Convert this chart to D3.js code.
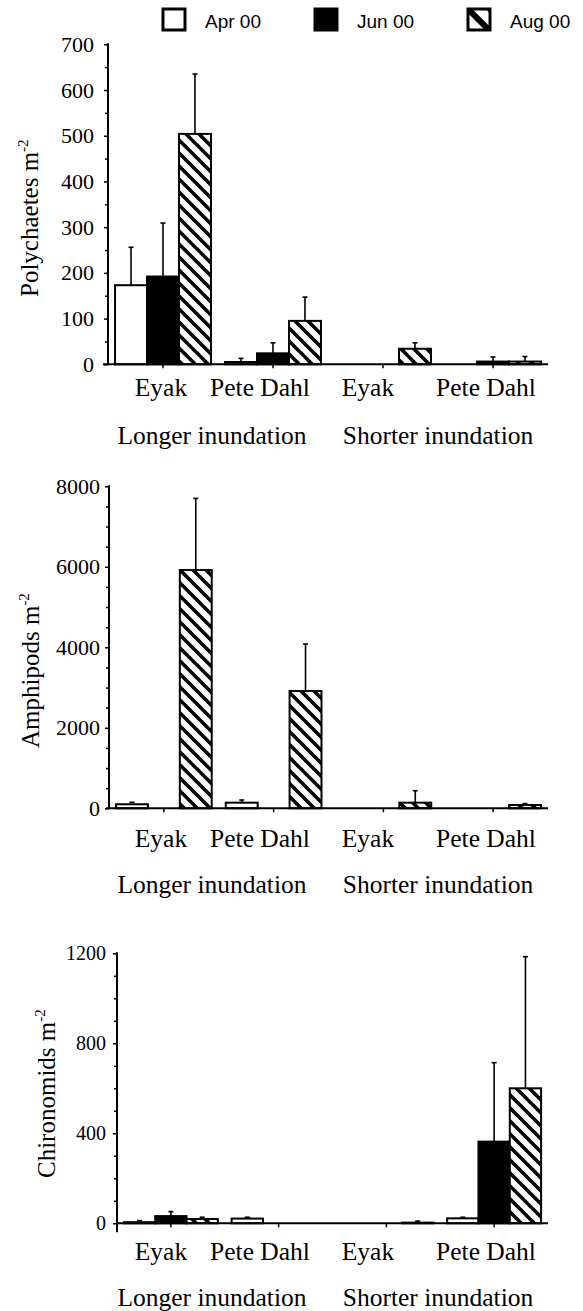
<!DOCTYPE html>
<html>
<head>
<meta charset="utf-8">
<script src="https://cdn.jsdelivr.net/npm/d3@7"></script>
<style>
  body { margin: 0; background: #fff; }
  svg { display: block; }
  .serif, .serif text { font-family: 'Liberation Serif', serif; }
</style>
</head>
<body>
<svg id="chart" width="583" height="1311"></svg>
<script>
// categories
var sites = ['Eyak L', 'Pete Dahl L', 'Eyak S', 'Pete Dahl S'];
var siteLabels = ['Eyak', 'Pete Dahl', 'Eyak', 'Pete Dahl'];
var groupLabels = ['Longer inundation', 'Shorter inundation'];
var months = ['Apr 00', 'Jun 00', 'Aug 00'];

// Polychaetes m-2 (mean, upper error)
var polyApr = [173, 5, 0, 0],   polyAprErr = [83, 8, 0, 0];
var polyJun = [192, 24, 0, 6],  polyJunErr = [117, 23, 0, 10];
var polyAug = [504, 95, 34, 6], polyAugErr = [131, 52, 13, 11];
var polyTicks = [0, 100, 200, 300, 400, 500, 600, 700];
var polyMinor = [50, 150, 250, 350, 450, 550, 650];

// Amphipods m-2
var amphApr = [100, 140, 0, 0],       amphAprErr = [50, 66, 0, 0];
var amphJun = [0, 0, 0, 0],           amphJunErr = [0, 0, 0, 0];
var amphAug = [5920, 2914, 140, 82],  amphAugErr = [1780, 1168, 297, 35];
var amphTicks = [0, 2000, 4000, 6000, 8000];
var amphMinor = [500, 1000, 1500, 2500, 3000, 3500, 4500, 5000, 5500, 6500, 7000, 7500];

// Chironomids m-2
var chirApr = [5, 21, 0, 22],   chirAprErr = [7, 6, 0, 5];
var chirJun = [32, 0, 0, 363],  chirJunErr = [20, 0, 0, 351];
var chirAug = [19, 0, 3, 600],  chirAugErr = [8, 0, 7, 585];
var chirTicks = [0, 400, 800, 1200];
var chirMinor = [100, 200, 300, 500, 600, 700, 900, 1000, 1100];

var serif = "'Liberation Serif', serif";
var sans = "'Liberation Sans', Arial, sans-serif";

var panels = [
  { title: 'Polychaetes m', mean: [polyApr, polyJun, polyAug], err: [polyAprErr, polyJunErr, polyAugErr],
    ticks: polyTicks, minor: polyMinor,
    x0: 108, x1: 548, extLeft: 5, extBelow: 0, zero: 364.3, top: 44.3, pad: 10, tickFont: 22,
    titleX: 38, titleY: 297, siteY: 396, groupY: 444 },
  { title: 'Amphipods m', mean: [amphApr, amphJun, amphAug], err: [amphAprErr, amphJunErr, amphAugErr],
    ticks: amphTicks, minor: amphMinor,
    x0: 109, x1: 548, extLeft: 3, extBelow: 0, zero: 808.3, top: 486.3, pad: 5, tickFont: 22,
    titleX: 39, titleY: 748, siteY: 847, groupY: 893 },
  { title: 'Chironomids m', mean: [chirApr, chirJun, chirAug], err: [chirAprErr, chirJunErr, chirAugErr],
    ticks: chirTicks, minor: chirMinor,
    x0: 117, x1: 548, extLeft: 0, extBelow: 9, zero: 1223.3, top: 953.3, pad: 7, tickFont: 20,
    titleX: 55, titleY: 1178, siteY: 1260, groupY: 1306 }
];
var siteLabelX = [161, 260, 368, 486];
var groupLabelX = [212, 438];

var svg = d3.select('#chart');
svg.append('rect').attr('width', 583).attr('height', 1311).attr('fill', '#fff');

var defs = svg.append('defs');
var hatch = defs.append('pattern')
  .attr('id', 'hatch')
  .attr('patternUnits', 'userSpaceOnUse')
  .attr('width', 13).attr('height', 13);
hatch.append('rect').attr('width', 13).attr('height', 13).attr('fill', '#fff');
hatch.append('path')
  .attr('d', 'M-2,-2L15,15M-2,11L2,15M11,-2L15,2')
  .attr('stroke', '#000').attr('stroke-width', 3.6);

var fills = { 'Apr 00': '#fff', 'Jun 00': '#000', 'Aug 00': 'url(#hatch)' };

// legend
var legendX = [163, 315, 468];
months.forEach(function(m, i) {
  var lx = legendX[i];
  if (i === 2) {
    var lp = defs.append('pattern')
      .attr('id', 'hatchLegend')
      .attr('patternUnits', 'userSpaceOnUse')
      .attr('x', lx).attr('y', 9)
      .attr('width', 22).attr('height', 22);
    lp.append('rect').attr('width', 22).attr('height', 22).attr('fill', '#fff');
    lp.append('path').attr('d', 'M-3,-3L25,25M-3,19L3,25M19,-3L25,3')
      .attr('stroke', '#000').attr('stroke-width', 6);
  }
  svg.append('rect')
    .attr('x', lx).attr('y', 9)
    .attr('width', 22).attr('height', 21)
    .attr('fill', i === 2 ? 'url(#hatchLegend)' : fills[m])
    .attr('stroke', '#000').attr('stroke-width', 3);
  svg.append('text')
    .attr('x', lx + 42).attr('y', 28)
    .attr('font-family', sans).attr('font-size', 19)
    .text(m);
});

panels.forEach(drawPanel);

function drawPanel(p) {
  var x = d3.scaleBand().domain(sites).range([p.x0, p.x1]);
  var xm = d3.scaleBand().domain(months).range([0, x.bandwidth()]).paddingOuter(0.22);
  var y = d3.scaleLinear().domain([0, p.ticks[p.ticks.length - 1]]).range([p.zero, p.top]);
  var g = svg.append('g').attr('class', 'serif');

  // bars
  months.forEach(function(m, i) {
    var rows = sites.map(function(s, j) {
      return { site: s, v: p.mean[i][j], e: p.err[i][j] };
    }).filter(function(d) { return d.v > 0; });

    var bars = g.append('g').selectAll('g').data(rows).enter().append('g');
    bars.append('rect')
      .attr('x', function(d) { return x(d.site) + xm(m); })
      .attr('y', function(d) { return y(d.v); })
      .attr('width', xm.bandwidth())
      .attr('height', function(d) { return y(0) - y(d.v); })
      .attr('fill', fills[m])
      .attr('stroke', '#000').attr('stroke-width', 2);

    var eb = bars.filter(function(d) { return d.e > 0; });
    var cx = function(d) { return x(d.site) + xm(m) + xm.bandwidth() / 2; };
    eb.append('line')
      .attr('x1', cx).attr('x2', cx)
      .attr('y1', function(d) { return y(d.v); })
      .attr('y2', function(d) { return y(d.v + d.e); })
      .attr('stroke', '#000').attr('stroke-width', 1.6);
    eb.append('line')
      .attr('x1', function(d) { return cx(d) - 2.5; })
      .attr('x2', function(d) { return cx(d) + 2.5; })
      .attr('y1', function(d) { return y(d.v + d.e); })
      .attr('y2', function(d) { return y(d.v + d.e); })
      .attr('stroke', '#000').attr('stroke-width', 1.6);
  });

  // y axis: major + minor ticks
  var ya = g.append('g')
    .attr('transform', 'translate(' + p.x0 + ',0)')
    .call(d3.axisLeft(y).tickValues(p.ticks).tickFormat(d3.format('d'))
      .tickSize(4).tickPadding(p.pad).tickSizeOuter(0));
  ya.attr('font-family', serif).attr('font-size', p.tickFont);
  ya.select('.domain').remove();
  ya.selectAll('line').attr('stroke-width', 1.5);
  ya.selectAll('text').attr('fill', '#000');

  var ym = g.append('g')
    .attr('transform', 'translate(' + p.x0 + ',0)')
    .call(d3.axisLeft(y).tickValues(p.minor).tickSize(3).tickFormat(''));
  ym.select('.domain').remove();
  ym.selectAll('line').attr('stroke-width', 1.5);

  g.append('line')
    .attr('x1', p.x0).attr('x2', p.x0)
    .attr('y1', y.range()[1] - 1).attr('y2', p.zero + p.extBelow)
    .attr('stroke', '#000').attr('stroke-width', 2);

  // x axis
  var xa = g.append('g')
    .attr('transform', 'translate(0,' + p.zero + ')')
    .call(d3.axisBottom(x).tickSize(4).tickFormat('').tickSizeOuter(0));
  xa.select('.domain').remove();
  xa.selectAll('line').attr('stroke-width', 1.5);
  g.append('line')
    .attr('x1', p.x0 - p.extLeft).attr('x2', p.x1)
    .attr('y1', p.zero).attr('y2', p.zero)
    .attr('stroke', '#000').attr('stroke-width', 2);

  // category labels
  g.selectAll('text.site').data(siteLabels).enter().append('text')
    .attr('class', 'site')
    .attr('x', function(d, i) { return siteLabelX[i]; })
    .attr('y', p.siteY)
    .attr('text-anchor', 'middle')
    .attr('font-family', serif).attr('font-size', 25.5)
    .text(function(d) { return d; });
  g.selectAll('text.grp').data(groupLabels).enter().append('text')
    .attr('class', 'grp')
    .attr('x', function(d, i) { return groupLabelX[i]; })
    .attr('y', p.groupY)
    .attr('text-anchor', 'middle')
    .attr('font-family', serif).attr('font-size', 25.5)
    .text(function(d) { return d; });

  // y title with superscript
  var t = g.append('text')
    .attr('transform', 'translate(' + p.titleX + ',' + p.titleY + ') rotate(-90)')
    .attr('font-family', serif).attr('font-size', 25);
  t.append('tspan').text(p.title);
  t.append('tspan').attr('dy', -10).attr('font-size', 15).text('-2');
}
</script>
</body>
</html>
